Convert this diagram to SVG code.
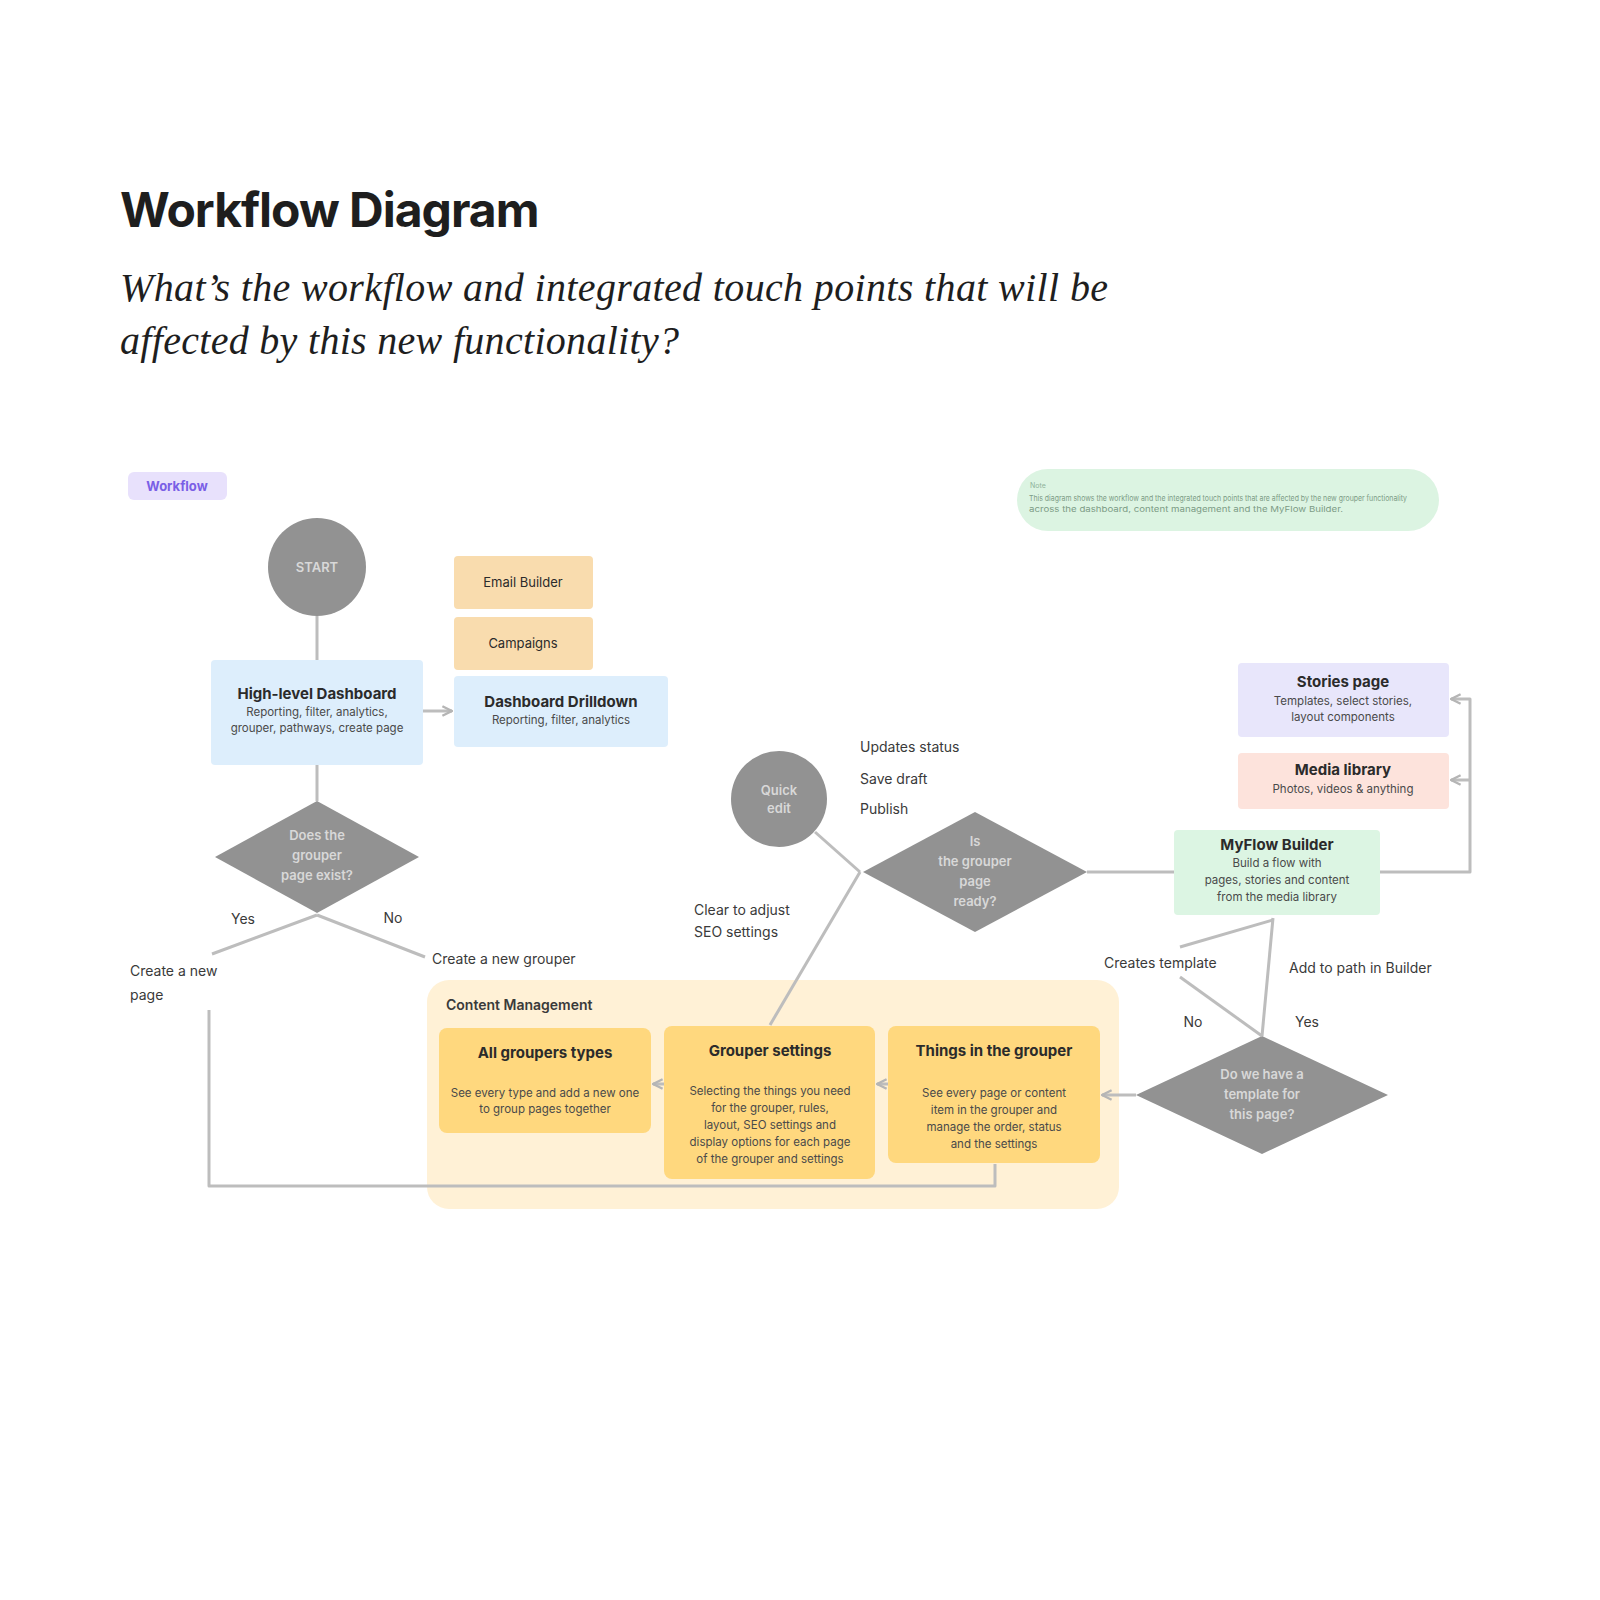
<svg xmlns="http://www.w3.org/2000/svg" width="1600" height="1600" viewBox="0 0 1600 1600">
<defs>
<marker id="arr" viewBox="0 0 10 10" refX="9" refY="5" markerWidth="4" markerHeight="4" orient="auto-start-reverse"><path d="M1,1 L9,5 L1,9" fill="none" stroke="#b5b5b5" stroke-width="2"/></marker>
<style>
.t{font-family:Inter,"Liberation Sans",sans-serif;fill:#2b2b2b}
.h{font-weight:700;font-size:15px;text-anchor:middle}
.d{font-size:11.5px;text-anchor:middle;fill:#4a4a4a}
.lbl{font-family:Inter,"Liberation Sans",sans-serif;font-size:14px;fill:#3a3a3a}
.g{fill:#929292}
.gt{font-family:Inter,"Liberation Sans",sans-serif;font-size:13px;fill:#d8d8d8;text-anchor:middle;font-weight:600}
.c{fill:none;stroke:#bdbdbd;stroke-width:3;stroke-linejoin:round}
.y{fill:#ffd87e}
</style>
</defs>
<rect width="1600" height="1600" fill="#ffffff"/>
<text x="120" y="227" font-family="Inter,'Liberation Sans',sans-serif" font-weight="700" font-size="48" fill="#1e1e1e" letter-spacing="-1">Workflow Diagram</text>
<text font-family="'Liberation Serif',serif" font-style="italic" font-size="40" fill="#1e1e1e"><tspan x="120" y="301" textLength="988">What’s the workflow and integrated touch points that will be</tspan><tspan x="120" y="354" textLength="559">affected by this new functionality?</tspan></text>

<g id="tag-workflow"><rect x="128" y="472" width="99" height="28" rx="6" fill="#e8e1fc"/><text x="177" y="491" font-family="Inter,'Liberation Sans',sans-serif" font-size="13" font-weight="700" fill="#7a5fe6" text-anchor="middle">Workflow</text></g>

<g id="note"><rect x="1017" y="469" width="422" height="62" rx="31" fill="#dcf4e2"/><text x="1030" y="488" font-family="Inter,'Liberation Sans',sans-serif" font-size="7" fill="#8fb39a">Note</text><text font-family="Inter,'Liberation Sans',sans-serif" font-size="8" fill="#7d9c86"><tspan x="1029" y="501" textLength="378" lengthAdjust="spacingAndGlyphs">This diagram shows the workflow and the integrated touch points that are affected by the new grouper functionality</tspan><tspan x="1029" y="512" textLength="314" lengthAdjust="spacingAndGlyphs">across the dashboard, content management and the MyFlow Builder.</tspan></text></g>

<g id="start"><circle cx="317" cy="567" r="49" class="g"/><text x="317" y="572" class="gt">START</text></g>

<g id="email-builder"><rect x="454" y="556" width="139" height="53" rx="4" fill="#f9dcae"/><text x="523" y="587" class="t" font-size="13" text-anchor="middle">Email Builder</text></g>
<g id="campaigns"><rect x="454" y="617" width="139" height="53" rx="4" fill="#f9dcae"/><text x="523" y="648" class="t" font-size="13" text-anchor="middle">Campaigns</text></g>

<g id="dashboard"><rect x="211" y="660" width="212" height="105" rx="4" fill="#ddeefc"/><text x="317" y="699" class="t h">High-level Dashboard</text><text class="t d"><tspan x="317" y="716">Reporting, filter, analytics,</tspan><tspan x="317" y="732">grouper, pathways, create page</tspan></text></g>

<g id="drilldown"><rect x="454" y="676" width="214" height="71" rx="4" fill="#ddeefc"/><text x="561" y="707" class="t h">Dashboard Drilldown</text><text x="561" y="724" class="t d">Reporting, filter, analytics</text></g>

<g id="decision-exists"><path d="M317,801 L419,857 L317,913 L215,857 Z" class="g"/><text class="gt"><tspan x="317" y="840">Does the</tspan><tspan x="317" y="860">grouper</tspan><tspan x="317" y="880">page exist?</tspan></text></g>

<text x="243" y="924" class="lbl" text-anchor="middle">Yes</text>
<text x="393" y="923" class="lbl" text-anchor="middle">No</text>
<text class="lbl"><tspan x="130" y="976">Create a new</tspan><tspan x="130" y="1000">page</tspan></text>
<text x="432" y="964" class="lbl">Create a new grouper</text>

<g id="content-management">
<rect x="427" y="980" width="692" height="229" rx="22" fill="#fff1d6"/>
<text x="446" y="1010" class="lbl" font-weight="600">Content Management</text>
<g id="all-groupers"><rect x="439" y="1028" width="212" height="105" rx="8" class="y"/><text x="545" y="1058" class="t h">All groupers types</text><text class="t d"><tspan x="545" y="1097">See every type and add a new one</tspan><tspan x="545" y="1113">to group pages together</tspan></text></g>
<g id="grouper-settings"><rect x="664" y="1026" width="211" height="153" rx="8" class="y"/><text x="770" y="1056" class="t h">Grouper settings</text><text class="t d"><tspan x="770" y="1095">Selecting the things you need</tspan><tspan x="770" y="1112">for the grouper, rules,</tspan><tspan x="770" y="1129">layout, SEO settings and</tspan><tspan x="770" y="1146">display options for each page</tspan><tspan x="770" y="1163">of the grouper and settings</tspan></text></g>
<g id="things-in-grouper"><rect x="888" y="1026" width="212" height="137" rx="8" class="y"/><text x="994" y="1056" class="t h">Things in the grouper</text><text class="t d"><tspan x="994" y="1097">See every page or content</tspan><tspan x="994" y="1114">item in the grouper and</tspan><tspan x="994" y="1131">manage the order, status</tspan><tspan x="994" y="1148">and the settings</tspan></text></g>
</g>

<g id="edit-circle"><circle cx="779" cy="799" r="48" class="g"/><text class="gt"><tspan x="779" y="795">Quick</tspan><tspan x="779" y="813">edit</tspan></text></g>

<text class="lbl"><tspan x="860" y="752">Updates status</tspan><tspan x="860" y="784">Save draft</tspan><tspan x="860" y="814">Publish</tspan></text>
<text class="lbl"><tspan x="694" y="915">Clear to adjust</tspan><tspan x="694" y="937">SEO settings</tspan></text>

<g id="decision-publish"><path d="M975,812 L1087,872 L975,932 L863,872 Z" class="g"/><text class="gt"><tspan x="975" y="846">Is</tspan><tspan x="975" y="866">the grouper</tspan><tspan x="975" y="886">page</tspan><tspan x="975" y="906">ready?</tspan></text></g>

<g id="myflow-builder"><rect x="1174" y="830" width="206" height="85" rx="4" fill="#dcf5e3"/><text x="1277" y="850" class="t h">MyFlow Builder</text><text class="t d"><tspan x="1277" y="867">Build a flow with</tspan><tspan x="1277" y="884">pages, stories and content</tspan><tspan x="1277" y="901">from the media library</tspan></text></g>

<g id="stories-page"><rect x="1238" y="663" width="211" height="74" rx="4" fill="#e8e6fb"/><text x="1343" y="687" class="t h">Stories page</text><text class="t d"><tspan x="1343" y="705">Templates, select stories,</tspan><tspan x="1343" y="721">layout components</tspan></text></g>

<g id="media-library"><rect x="1238" y="753" width="211" height="56" rx="4" fill="#fde3dc"/><text x="1343" y="775" class="t h">Media library</text><text x="1343" y="793" class="t d">Photos, videos &amp; anything</text></g>

<g id="decision-template"><path d="M1262,1036 L1388,1095 L1262,1154 L1136,1095 Z" class="g"/><text class="gt"><tspan x="1262" y="1079">Do we have a</tspan><tspan x="1262" y="1099">template for</tspan><tspan x="1262" y="1119">this page?</tspan></text></g>

<text x="1104" y="968" class="lbl">Creates template</text>
<text x="1289" y="973" class="lbl">Add to path in Builder</text>
<text x="1193" y="1027" class="lbl" text-anchor="middle">No</text>
<text x="1307" y="1027" class="lbl" text-anchor="middle">Yes</text>

<g id="connectors">
<path class="c" d="M317,616 L317,660"/>
<path class="c" d="M423,711 L452,711" marker-end="url(#arr)"/>
<path class="c" d="M317,765 L317,801"/>
<path class="c" d="M317,915 L212,954"/>
<path class="c" d="M317,915 L425,957"/>
<path class="c" d="M209,1010 L209,1186 L995,1186 L995,1164"/>
<path class="c" d="M815,832 L860,872"/>
<path class="c" d="M860,872 L770,1025"/>
<path class="c" d="M1087,872 L1174,872"/>
<path class="c" d="M1380,872 L1470,872 L1470,699 L1451,699" marker-end="url(#arr)"/>
<path class="c" d="M1470,780 L1451,780" marker-end="url(#arr)"/>
<path class="c" d="M1136,1095 L1102,1095" marker-end="url(#arr)"/>
<path class="c" d="M888,1084 L877,1084" marker-end="url(#arr)"/>
<path class="c" d="M664,1084 L653,1084" marker-end="url(#arr)"/>
<path class="c" d="M1262,1036 L1180,977"/>
<path class="c" d="M1180,947 L1273,920"/>
<path class="c" d="M1262,1036 L1273,918"/>
</g>
</svg>
